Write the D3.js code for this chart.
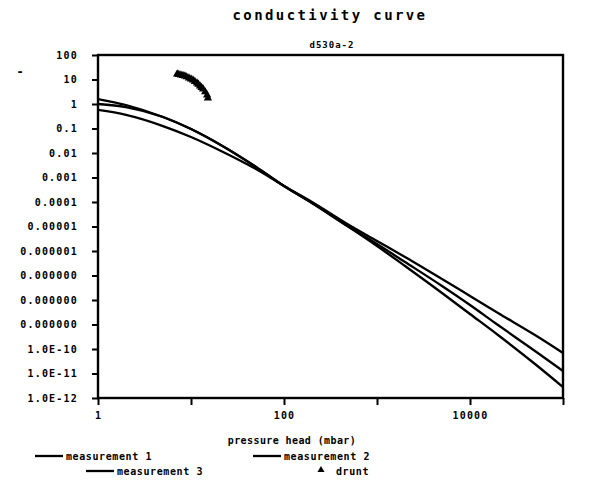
<!DOCTYPE html>
<html>
<head>
<meta charset="utf-8">
<script src="https://cdn.jsdelivr.net/npm/d3@7/dist/d3.min.js"></script>
<style>
  html, body { margin: 0; padding: 0; background: #fff; }
  svg { display: block; }
  text { font-family: "DejaVu Sans Mono", monospace; font-weight: bold; fill: #000; }
</style>
</head>
<body>
<svg id="chart" width="589" height="497"></svg>
<script>
// Hydraulic conductivity vs. pressure head, three measurements plus the "drunt" points
const pressureHead = [1, 2, 5, 10, 20, 50, 100, 200, 500, 1000, 2000, 5000, 10000, 20000, 50000, 100000];
const measurement1 = [1.60, 0.91, 0.295, 0.095, 0.0233, 0.0027, 4.5e-4, 9.1e-5, 9.5e-6, 1.6e-6, 2.44e-7, 1.93e-8, 2.68e-9, 3.73e-10, 2.44e-11, 2.8e-12];
const measurement2 = [1.00, 0.75, 0.295, 0.095, 0.0233, 0.0027, 4.5e-4, 9.1e-5, 9.5e-6, 1.93e-6, 3.56e-7, 3.73e-8, 6.25e-9, 9.5e-10, 8.3e-11, 1.26e-11];
const measurement3 = [0.57, 0.36, 0.126, 0.045, 0.0133, 0.0022, 4.5e-4, 1.0e-4, 1.15e-5, 2.56e-6, 5.7e-7, 7.2e-8, 1.46e-8, 2.95e-9, 3.73e-10, 6.9e-11];

const druntHead = [7.1, 7.4, 7.8, 8.2, 8.6, 9.0, 9.5, 10.0, 10.5, 11.0, 11.6, 12.0, 12.5, 13.0, 13.5, 14.2, 14.9, 15.2];
const druntK    = [16.7, 16.0, 15.3, 14.6, 13.9, 12.7, 11.5, 10.5, 9.5, 8.3, 7.2, 6.3, 5.4, 4.7, 4.1, 3.1, 2.3, 1.76];

const yTickValues = [100, 10, 1, 0.1, 0.01, 0.001, 1e-4, 1e-5, 1e-6, 1e-7, 1e-8, 1e-9, 1e-10, 1e-11, 1e-12];
const yTickLabels = ["100", "10", "1", "0.1", "0.01", "0.001", "0.0001", "0.00001", "0.000001",
                     "0.000000", "0.000000", "0.000000", "1.0E-10", "1.0E-11", "1.0E-12"];
const xTickValues = [1, 10, 100, 1000, 10000, 100000];
const xTickLabels = ["1", "", "100", "", "10000", ""];

const seriesNames = ["measurement 1", "measurement 2", "measurement 3"];
const titleText = "conductivity curve";
const subtitleText = "d530a-2";
const xAxisTitle = "pressure head (mbar)";
const druntName = "drunt";

const svg = d3.select("#chart");
const margin = { left: 98, right: 26, top: 55, bottom: 99 };
const W = 589, H = 497;

const x = d3.scaleLog().domain([1, 1e5]).range([margin.left, W - margin.right]);
const y = d3.scaleLog().domain([1e-12, 100]).range([H - margin.bottom, margin.top]);

// titles
svg.append("text").attr("x", 330).attr("y", 20).attr("text-anchor", "middle")
  .style("font-size", "14px").style("letter-spacing", "2.4px").text(titleText);
svg.append("text").attr("x", 332).attr("y", 48).attr("text-anchor", "middle")
  .style("font-size", "9px").style("letter-spacing", "1px").text(subtitleText);
svg.append("text").attr("x", 20).attr("y", 76).attr("text-anchor", "middle")
  .style("font-size", "12px").text("-");

// axes
const yAxis = d3.axisLeft(y).tickValues(yTickValues)
  .tickFormat((d, i) => yTickLabels[i]).tickSize(6).tickSizeOuter(0).tickPadding(14);
const gy = svg.append("g").attr("transform", `translate(${margin.left},0)`).call(yAxis);

const xAxis = d3.axisBottom(x).tickValues(xTickValues)
  .tickFormat((d, i) => xTickLabels[i]).tickSize(7).tickSizeOuter(0).tickPadding(7);
const gx = svg.append("g").attr("transform", `translate(0,${H - margin.bottom})`).call(xAxis);

[gx, gy].forEach(g => {
  g.select(".domain").remove();
  g.selectAll(".tick line").attr("stroke", "#000").attr("stroke-width", 2);
  g.selectAll(".tick text").style("font-size", "10px").style("letter-spacing", "1.2px")
    .style("font-family", "'DejaVu Sans Mono', monospace").style("font-weight", "bold").attr("fill", "#000");
});

// frame
svg.append("rect")
  .attr("x", x(1)).attr("y", y(100))
  .attr("width", x(1e5) - x(1)).attr("height", y(1e-12) - y(100))
  .attr("fill", "none").attr("stroke", "#000").attr("stroke-width", 2.4);

// curves
const line = d3.line()
  .x(d => x(d[0])).y(d => y(d[1]))
  .curve(d3.curveMonotoneX);

[measurement1, measurement2, measurement3].forEach(vals => {
  svg.append("path")
    .datum(pressureHead.map((h, i) => [h, vals[i]]))
    .attr("d", line)
    .attr("fill", "none").attr("stroke", "#000").attr("stroke-width", 2.3);
});

// drunt markers
const tri = d3.symbol().type(d3.symbolTriangle).size(30);
svg.append("g").selectAll("path").data(druntHead.map((h, i) => [h, druntK[i]]))
  .join("path")
  .attr("transform", d => `translate(${x(d[0])},${y(d[1])})`)
  .attr("d", tri).attr("fill", "#000");

// x axis title
svg.append("text").attr("x", 292).attr("y", 444).attr("text-anchor", "middle")
  .style("font-size", "10px").style("letter-spacing", "0.4px").text(xAxisTitle);

// legend
const legendItems = [
  { name: seriesNames[0], lx: 35, ly: 456 },
  { name: seriesNames[1], lx: 253, ly: 456 },
  { name: seriesNames[2], lx: 86, ly: 471 }
];
legendItems.forEach(it => {
  svg.append("line").attr("x1", it.lx).attr("x2", it.lx + 28)
    .attr("y1", it.ly).attr("y2", it.ly).attr("stroke", "#000").attr("stroke-width", 2.3);
  svg.append("text").attr("x", it.lx + 31).attr("y", it.ly + 3.5)
    .style("font-size", "10px").style("letter-spacing", "0.6px").text(it.name);
});
svg.append("path").attr("transform", "translate(321,470)")
  .attr("d", d3.symbol().type(d3.symbolTriangle).size(22)).attr("fill", "#000");
svg.append("text").attr("x", 336).attr("y", 474.5)
  .style("font-size", "10px").style("letter-spacing", "0.6px").text(druntName);
</script>
</body>
</html>
